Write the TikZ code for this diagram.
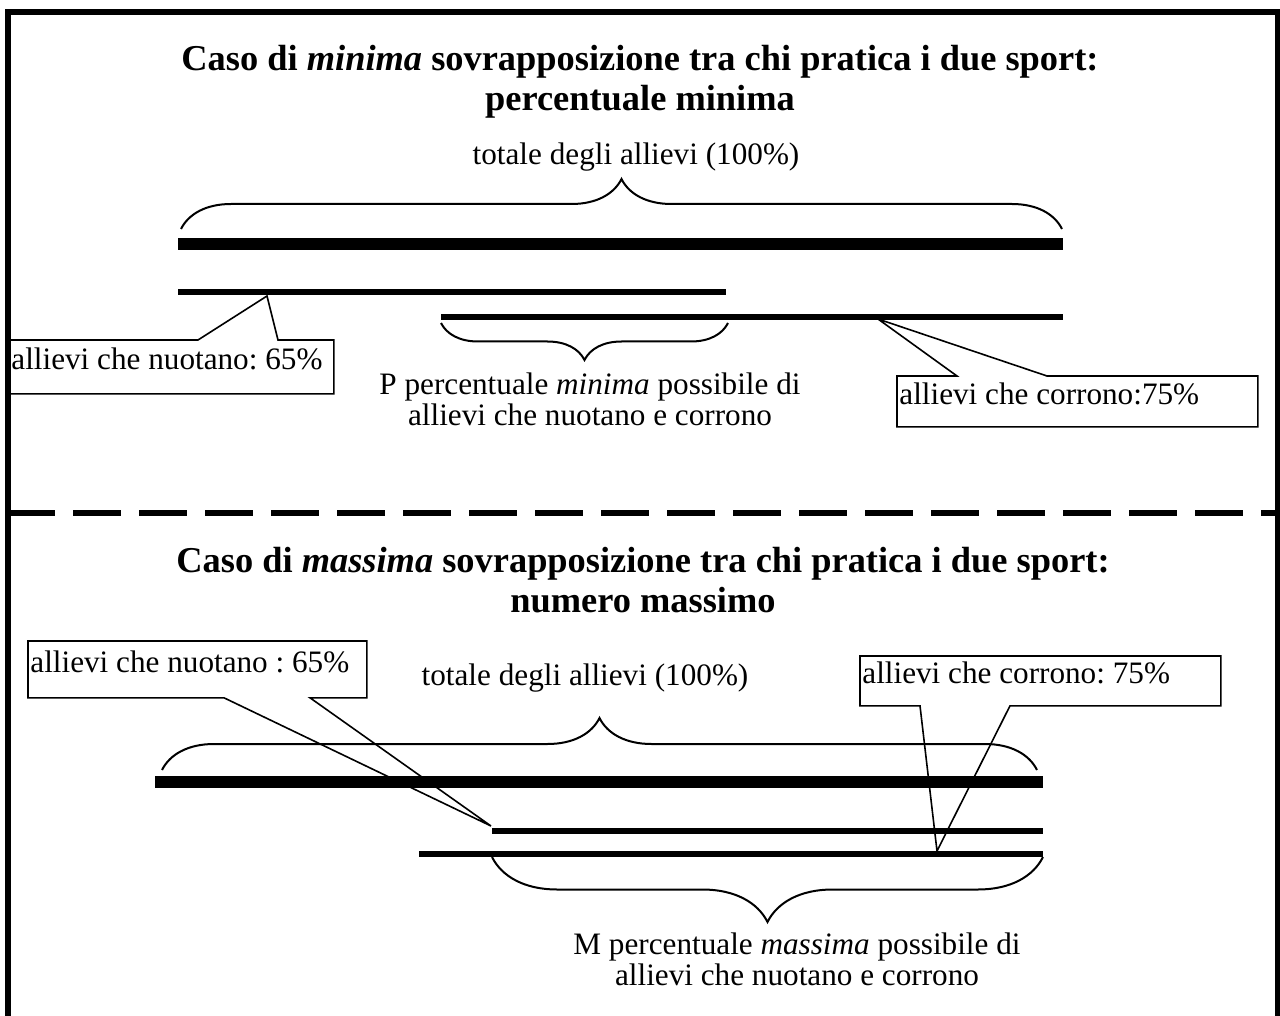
\documentclass[tikz,border=0pt]{standalone}
\usepackage{fontspec}
\setmainfont{Liberation Serif}
\usetikzlibrary{decorations.pathreplacing}
\tikzstyle{bar}=[line width=3pt]
\tikzstyle{total}=[line width=6pt]
\tikzstyle{txt}=[font=\fontsize{15.6}{15.5}\selectfont, inner sep=0pt, align=center]
\tikzstyle{title}=[font=\fontsize{18.2}{20}\selectfont\bfseries, inner sep=0pt, align=center]
\tikzstyle{callout}=[font=\fontsize{15.6}{15.5}\selectfont, inner sep=0pt, anchor=north west]
\tikzstyle{outline}=[line width=0.8pt]
\tikzset{curly/.style={decorate, decoration={brace, amplitude=#1}, line width=1pt}}
\newcommand{\boxtext}[2]{\makebox[#1][l]{\hspace{1pt}\raisebox{-1.5pt}[0pt][0pt]{#2}}}

\begin{document}
\frenchspacing
\begin{tikzpicture}[x=0.5pt, y=-0.5pt]
    \useasboundingbox (0,0) rectangle (1280,1016);
    \draw[line width=3pt] (8,1016) -- (8,12) -- (1278,12) -- (1278,1016);
    \draw[line width=3pt, dash pattern=on 24pt off 9pt] (7,512.5) -- (1280,512.5);

    \node[title, anchor=base] (titleMin) at (640,111) {Caso di \textit{minima} sovrapposizione tra chi pratica i due sport:\\percentuale minima};
    \node[txt, anchor=base] (totMin) at (636,165) {totale degli allievi (100\%)};

    \coordinate (allMinL) at (178,244);
    \coordinate (allMinR) at (1063,244);
    \coordinate (swimMinL) at (178,292);
    \coordinate (swimMinR) at (726,292);
    \coordinate (runMinL) at (441,317);
    \coordinate (runMinR) at (1063,317);
    \draw[total] (allMinL) -- (allMinR);
    \draw[bar] (swimMinL) -- (swimMinR);
    \draw[bar] (runMinL) -- (runMinR);

    \draw[curly=25pt] (181,229) -- (1062,229);
    \draw[curly=18.5pt] (728,323) -- (441,323);
    \node[txt, anchor=base] (overMin) at (590,425) {P percentuale \textit{minima} possibile di\\allievi che nuotano e corrono};

    \coordinate (swimMinTip) at (267,296);
    \node[callout, minimum height=26.5pt] (swimMin) at (9,340) {\boxtext{162pt}{allievi che nuotano: 65\%}};
    \draw[outline] (swimMin.north west) -- ([xshift=94.5pt]swimMin.north west) -- (swimMinTip)
        -- ([xshift=134.5pt]swimMin.north west) -- (swimMin.north east) -- (swimMin.south east)
        -- (swimMin.south west) -- cycle;

    \coordinate (runMinTip) at (878,319);
    \node[callout, minimum height=25pt] (runMin) at (897,376) {\boxtext{180pt}{allievi che corrono:75\%}};
    \draw[outline] (runMin.north west) -- ([xshift=30pt]runMin.north west) -- (runMinTip)
        -- ([xshift=75pt]runMin.north west) -- (runMin.north east) -- (runMin.south east)
        -- (runMin.south west) -- cycle;

    \node[title, anchor=base] (titleMax) at (643,612) {Caso di \textit{massima} sovrapposizione tra chi pratica i due sport:\\numero massimo};
    \node[txt, anchor=base] (totMax) at (585,685) {totale degli allievi (100\%)};

    \coordinate (allMaxL) at (155,782);
    \coordinate (allMaxR) at (1043,782);
    \coordinate (swimMaxL) at (492,831);
    \coordinate (swimMaxR) at (1043,831);
    \coordinate (runMaxL) at (419,854);
    \coordinate (runMaxR) at (1043,854);
    \draw[total] (allMaxL) -- (allMaxR);
    \draw[bar] (swimMaxL) -- (swimMaxR);
    \draw[bar] (runMaxL) -- (runMaxR);

    \draw[curly=26pt] (162,770) -- (1037,770);
    \draw[curly=32.5pt] (1043,857) -- (492,857);
    \node[txt, anchor=base] (overMax) at (797,985) {M percentuale \textit{massima} possibile di\\allievi che nuotano e corrono};

    \coordinate (swimMaxTip) at (491,826);
    \node[callout, minimum height=28pt] (swimMax) at (28,641) {\boxtext{169pt}{allievi che nuotano : 65\%}};
    \draw[outline] (swimMax.south west) -- (swimMax.north west) -- (swimMax.north east)
        -- (swimMax.south east) -- ([xshift=141pt]swimMax.south west) -- (swimMaxTip)
        -- ([xshift=98pt]swimMax.south west) -- cycle;

    \coordinate (runMaxTip) at (937,851);
    \node[callout, minimum height=24.5pt] (runMax) at (860,656) {\boxtext{180pt}{allievi che corrono: 75\%}};
    \draw[outline] (runMax.south west) -- (runMax.north west) -- (runMax.north east)
        -- (runMax.south east) -- ([xshift=75pt]runMax.south west) -- (runMaxTip)
        -- ([xshift=30pt]runMax.south west) -- cycle;
\end{tikzpicture}
\end{document}
